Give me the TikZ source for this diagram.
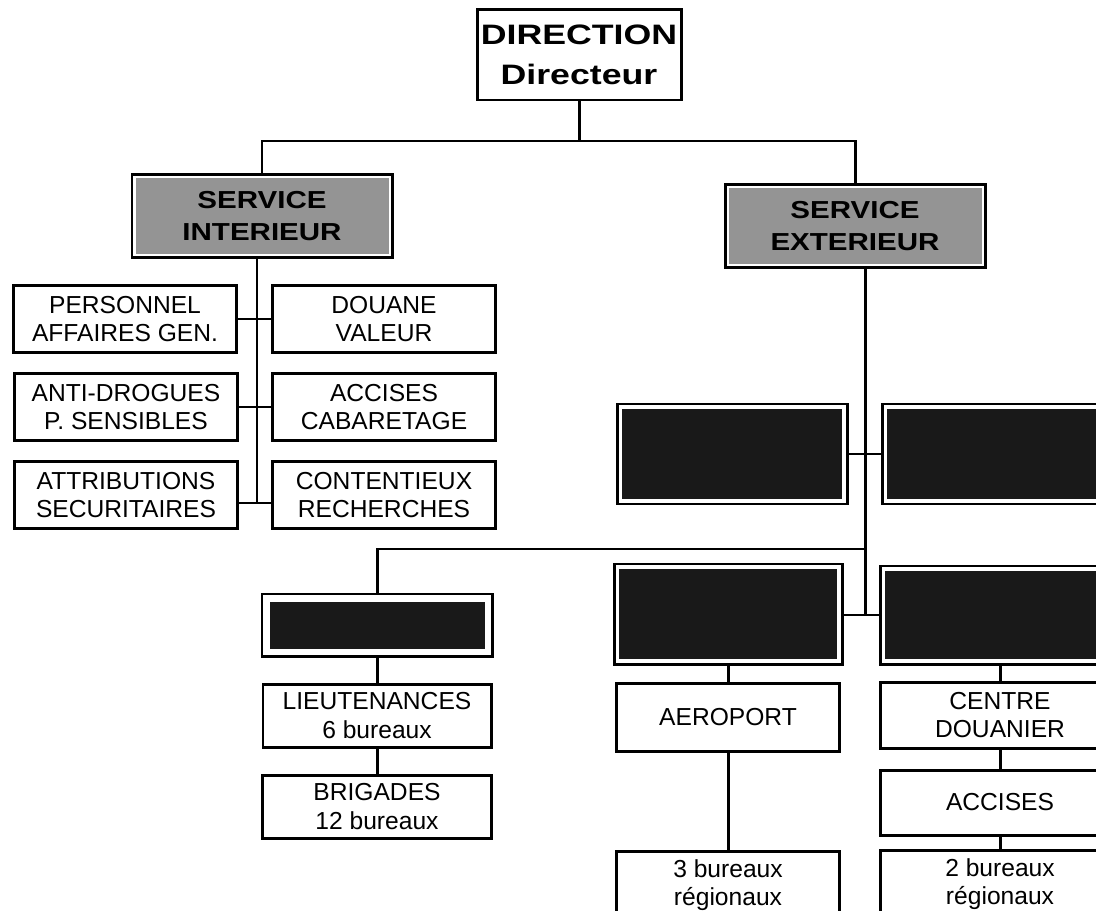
\documentclass[tikz,border=0pt]{standalone}
\usepackage{fontspec}
\setmainfont{Liberation Sans}
\newfontfamily\headfont[FakeStretch=1.2]{Liberation Sans}
\newfontfamily\dirfont[FakeStretch=1.27]{Liberation Sans}
\usetikzlibrary{positioning}

\tikzset{
  box/.style={draw, line width=1.7pt, inner sep=0pt, outer sep=0pt, align=center,
    font=\fontsize{14}{16}\selectfont, minimum width=44.6mm, minimum height=13.4mm},
  srv/.style={box, minimum width=52mm, minimum height=16.5mm,
    font=\headfont\bfseries\fontsize{14}{18.5}\selectfont,
    path picture={\fill[black!42] ([shift={(0.7mm,-0.7mm)}]path picture bounding box.north west)
      rectangle ([shift={(-0.7mm,0.7mm)}]path picture bounding box.south east);}},
  blk/.style={box, minimum width=46mm, minimum height=20mm,
    path picture={\fill[black!90] ([shift={(#1,-#1)}]path picture bounding box.north west)
      rectangle ([shift={(-#1,#1)}]path picture bounding box.south east);}},
  blk/.default=1mm,
  link/.style={line width=1.7pt}
}

\begin{document}
\begin{tikzpicture}[x=0.2mm, y=-0.2mm]
  \useasboundingbox (0,0) rectangle (1096,911);
  \clip (0,0) rectangle (1096,911);

  \node[box, minimum width=40.8mm, minimum height=18mm,
    font=\dirfont\bfseries\fontsize{16}{22.5}\selectfont] (dir) at (579,55) {DIRECTION\\Directeur};

  \node[srv] (sint) at (262,216) {SERVICE\\INTERIEUR};
  \node[srv] (sext) at (855,226) {SERVICE\\EXTERIEUR};

  % service interieur
  \node[box] (pers) at (125,319) {PERSONNEL\\AFFAIRES GEN.};
  \node[box] (douane) at (384,319) {DOUANE\\VALEUR};
  \node[box] (anti) at (126,407) {ANTI-DROGUES\\P. SENSIBLES};
  \node[box] (acc1) at (384,407) {ACCISES\\CABARETAGE};
  \node[box] (attr) at (126,495) {ATTRIBUTIONS\\SECURITAIRES};
  \node[box] (cont) at (384,495) {CONTENTIEUX\\RECHERCHES};

  % service exterieur
  \node[blk] (blkA) at (732,454) {};
  \node[blk, minimum width=48mm] (blkB) at (1002,454) {};
  \node[blk, minimum width=45.6mm] (blkC) at (728,614) {};
  \node[blk, minimum width=48mm, minimum height=19.6mm] (blkD) at (1000,615) {};
  \node[blk=1.5mm, minimum height=12.4mm] (blkE) at (377,625) {};

  \node[box, minimum width=45.6mm, minimum height=12.6mm, below=5.6mm of blkE] (lieut) {LIEUTENANCES\\6 bureaux};
  \node[box, minimum width=45.8mm, minimum height=12.6mm, below=5.6mm of lieut] (brig) {BRIGADES\\12 bureaux};
  \node[box, minimum height=13.6mm, below=3.8mm of blkC] (aero) {AEROPORT};
  \node[box, minimum height=13.6mm, below=20mm of aero] (bur3) {3 bureaux\\régionaux};
  \node[box, minimum width=48mm, minimum height=13.2mm, below=3.6mm of blkD] (centre) {CENTRE\\DOUANIER};
  \node[box, minimum width=48mm, minimum height=13mm, below=4.4mm of centre] (acc2) {ACCISES};
  \node[box, minimum width=48mm, minimum height=13.6mm, below=3mm of acc2] (bur2) {2 bureaux\\régionaux};

  \draw[link] (dir.south) -- (dir.south |- 0,141) coordinate (top);
  \draw[link] (sint.north) |- (top) -| (sext.north);

  \coordinate (ls) at (257,503);
  \draw[link] (sint.south -| ls) -- (ls);
  \draw[link] (pers.east) -- (douane.west);
  \draw[link] (anti.east) -- (acc1.west);
  \draw[link] (attr.east |- ls) -- (cont.west |- ls);

  \coordinate (rs) at (865,615);
  \draw[link] (sext.south -| rs) -- (rs);
  \draw[link] (blkA.east) -- (blkB.west);
  \draw[link] (blkC.east |- rs) -- (blkD.west |- rs);
  \draw[link] (blkE.north) |- (rs |- 0,549);
  \draw[link] (blkE.south) -- (lieut.north);
  \draw[link] (lieut.south) -- (brig.north);
  \draw[link] (blkC.south) -- (aero.north);
  \draw[link] (aero.south) -- (bur3.north);
  \draw[link] (blkD.south) -- (centre.north);
  \draw[link] (centre.south) -- (acc2.north);
  \draw[link] (acc2.south) -- (bur2.north);
\end{tikzpicture}
\end{document}
